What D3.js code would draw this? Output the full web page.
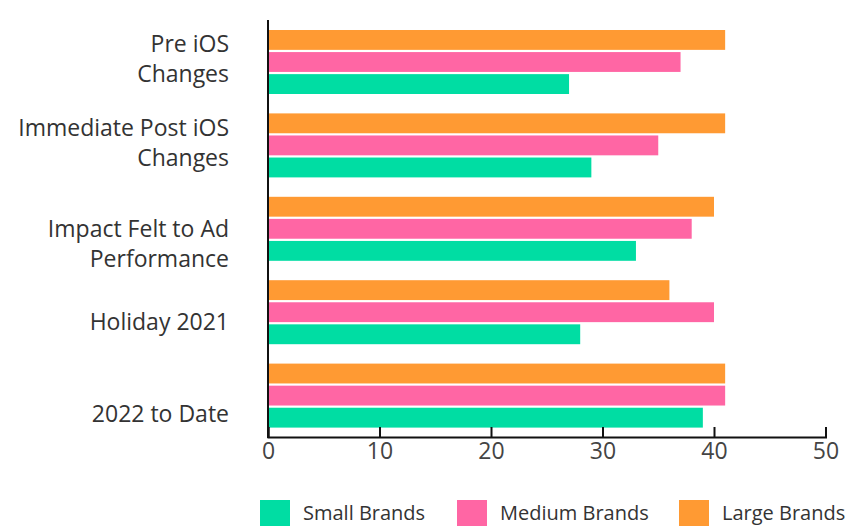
<!DOCTYPE html>
<html>
<head>
<meta charset="utf-8">
<script src="https://cdn.jsdelivr.net/npm/d3@7"></script>
<style>
  body { margin: 0; background: #fff; }
  svg { display: block; font-family: "Open Sans", sans-serif; }
</style>
</head>
<body>
<div id="container"></div>
<script>
// datos
const categories = [
    ["Pre iOS", "Changes"],
    ["Immediate Post iOS", "Changes"],
    ["Impact Felt to Ad", "Performance"],
    ["Holiday 2021"],
    ["2022 to Date"]
];
const seriesNames = ["Small Brands", "Medium Brands", "Large Brands"];
const seriesColors = ["#00dda3", "#ff66a4", "#ff9a33"];
const smallBrands = [27, 29, 33, 28, 39];
const mediumBrands = [37, 35, 38, 40, 41];
const largeBrands = [41, 41, 40, 36, 41];
const xTicks = [0, 10, 20, 30, 40, 50];
// desplazamiento vertical de cada etiqueta respecto al centro de su grupo
const labelShift = [-3, -2, 15, 10, 19];

const WIDTH = 845, HEIGHT = 526;
const margin = { left: 268, right: 20, top: 20, bottom: 91 };

const svg = d3.select("#container").append("svg")
    .attr("width", WIDTH).attr("height", HEIGHT);

const keys = categories.map((c) => c.join(" "));
const values = [smallBrands, mediumBrands, largeBrands];

const xScale = d3.scaleLinear()
    .domain([0, 50])
    .range([margin.left, 825.5]);

const y0 = d3.scaleBand()
    .domain(keys)
    .range([margin.top, HEIGHT - margin.bottom + 2])
    .padding(0);

// barras grandes arriba, pequeñas abajo
const y1 = d3.scaleBand()
    .domain([2, 1, 0])
    .range([10, 74])
    .paddingInner(0.1);

const rows = [];
keys.forEach((k, i) => {
    values.forEach((arr, s) => rows.push({ cat: k, s: s, v: arr[i] }));
});

svg.append("g")
    .selectAll("rect")
    .data(rows)
    .join("rect")
    .attr("x", xScale(0))
    .attr("y", (d) => y0(d.cat) + y1(d.s))
    .attr("width", (d) => xScale(d.v) - xScale(0))
    .attr("height", y1.bandwidth())
    .attr("fill", (d) => seriesColors[d.s]);

// eje x
const axisY = y0.range()[1];
const xAxis = svg.append("g")
    .attr("transform", `translate(0, ${axisY})`)
    .call(d3.axisBottom(xScale).tickValues(xTicks).tickSize(-10).tickPadding(8));
xAxis.select(".domain").attr("stroke", "#111").attr("stroke-width", 2);
xAxis.selectAll(".tick line").attr("stroke", "#111").attr("stroke-width", 2);
xAxis.selectAll(".tick text")
    .attr("font-size", 23)
    .attr("fill", "#444")
    .attr("font-family", "Open Sans, sans-serif")
    .attr("dy", "0.62em");

// eje y (solo la línea)
svg.append("line")
    .attr("x1", xScale(0)).attr("x2", xScale(0))
    .attr("y1", margin.top).attr("y2", axisY + 1)
    .attr("stroke", "#111").attr("stroke-width", 2);

// etiquetas de categorías
const lineH = 30;
svg.append("g")
    .selectAll("text")
    .data(categories)
    .join("text")
    .attr("text-anchor", "end")
    .attr("font-size", 23)
    .attr("fill", "#333")
    .each(function (lines, i) {
        const cy = y0(keys[i]) + y0.bandwidth() / 2 + labelShift[i];
        const startY = cy - (lines.length - 1) * lineH / 2;
        d3.select(this).selectAll("tspan")
            .data(lines)
            .join("tspan")
            .attr("x", 229)
            .attr("y", (l, j) => startY + j * lineH)
            .attr("dy", "0.35em")
            .text((l) => l);
    });

// leyenda
const legendX = [260, 457, 679];
const legend = svg.append("g")
    .selectAll("g")
    .data(seriesNames)
    .join("g")
    .attr("transform", (d, i) => `translate(${legendX[i]}, 500)`);
legend.append("rect")
    .attr("width", 30).attr("height", 30)
    .attr("fill", (d, i) => seriesColors[i]);
legend.append("text")
    .attr("x", 43).attr("y", 13)
    .attr("dy", "0.35em")
    .attr("font-size", 20)
    .attr("fill", "#333")
    .text((d) => d);
</script>
</body>
</html>
